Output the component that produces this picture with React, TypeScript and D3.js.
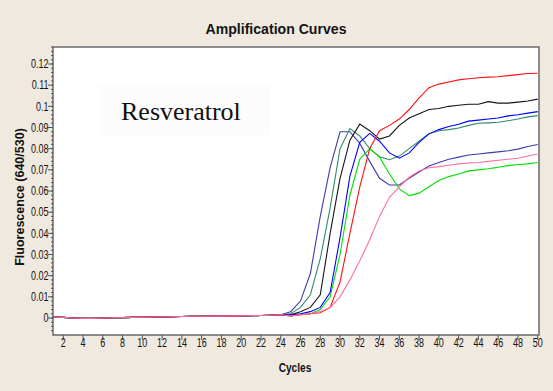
import React from "react";
import * as d3 from "d3";

// Cycle numbers 1..50
const cycles: number[] = d3.range(1, 51);

// Shared flat baseline for cycles 1..24
const baseline: number[] = [
  0.0005, 0.0003, 0.0, -0.0002, -0.0002, 0.0, 0.0001, 0.0002, 0.0003, 0.0004,
  0.0005, 0.0005, 0.0006, 0.0007, 0.0008, 0.0008, 0.0009, 0.0009, 0.001, 0.001,
  0.0011, 0.0012, 0.0013, 0.0015,
];

// Fluorescence for cycles 25..50, per sample
const slateTail: number[] = [
  0.003, 0.008, 0.021, 0.048, 0.071, 0.088, 0.088, 0.0825, 0.074, 0.066,
  0.0628, 0.0628, 0.066, 0.069, 0.0718, 0.0735, 0.075, 0.076, 0.077, 0.0775,
  0.078, 0.0785, 0.079, 0.0798, 0.081, 0.082,
];
const tealTail: number[] = [
  0.002, 0.005, 0.011, 0.028, 0.052, 0.08, 0.0895, 0.086, 0.08, 0.0762,
  0.0748, 0.0765, 0.08, 0.0835, 0.087, 0.0885, 0.089, 0.0898, 0.091, 0.092,
  0.0922, 0.0925, 0.0932, 0.094, 0.095, 0.0956,
];
const blackTail: number[] = [
  0.0015, 0.003, 0.005, 0.011, 0.04, 0.066, 0.084, 0.0916, 0.0885, 0.0845,
  0.086, 0.091, 0.0945, 0.0965, 0.0985, 0.099, 0.1, 0.1005, 0.101, 0.101,
  0.1022, 0.1015, 0.1015, 0.102, 0.1025, 0.1034,
];
const blueTail: number[] = [
  0.0015, 0.002, 0.003, 0.005, 0.012, 0.038, 0.067, 0.083, 0.0872, 0.0835,
  0.078, 0.0755, 0.078, 0.083, 0.087, 0.089, 0.0905, 0.0915, 0.093, 0.0935,
  0.094, 0.0945, 0.0955, 0.096, 0.0968, 0.0975,
];
const greenTail: number[] = [
  0.001, 0.0015, 0.002, 0.004, 0.01, 0.03, 0.058, 0.075, 0.08, 0.076,
  0.068, 0.061, 0.0578, 0.059, 0.062, 0.065, 0.0668, 0.068, 0.0695, 0.07,
  0.0705, 0.0712, 0.072, 0.0725, 0.0728, 0.0735,
];
const redTail: number[] = [
  0.001, 0.0015, 0.002, 0.0025, 0.005, 0.017, 0.04, 0.062, 0.08, 0.0885,
  0.091, 0.094, 0.0985, 0.104, 0.1088, 0.1105, 0.1115, 0.1125, 0.113, 0.1135,
  0.1138, 0.114, 0.1145, 0.115, 0.1155, 0.1156,
];
const pinkTail: number[] = [
  0.001, 0.0015, 0.002, 0.003, 0.005, 0.01, 0.018, 0.027, 0.037, 0.048,
  0.057, 0.062, 0.0665, 0.0695, 0.071, 0.0715, 0.0722, 0.0728, 0.0732, 0.0735,
  0.074, 0.0745, 0.075, 0.0755, 0.0765, 0.0775,
];

const seriesNames: string[] = ["slate", "teal", "black", "green", "blue", "red", "pink"];
const seriesTails: number[][] = [slateTail, tealTail, blackTail, greenTail, blueTail, redTail, pinkTail];
const seriesColors: string[] = ["#3c3cae", "#2e8b6e", "#151515", "#00e000", "#0000ff", "#ff1010", "#ff6f9a"];

const xTicks: number[] = d3.range(2, 51, 2);
const yTicks: number[] = d3.range(0, 0.1201, 0.01);
const yMinorTicks: number[] = d3.range(-0.006, 0.1281, 0.002);

const W = 553;
const H = 391;
const plot = { left: 53, right: 539, top: 47, bottom: 335 };

const sans = "'Liberation Sans', Arial, sans-serif";

// Text squeezed horizontally to mimic a narrow face
function NText(props: {
  x: number;
  y: number;
  size: number;
  squeeze: number;
  anchor?: "start" | "middle" | "end";
  bold?: boolean;
  children: React.ReactNode;
}) {
  const { x, y, size, squeeze, anchor = "start", bold = false, children } = props;
  return (
    <text
      transform={`translate(${x},${y}) scale(${squeeze},1)`}
      textAnchor={anchor}
      fontFamily={sans}
      fontSize={size}
      fontWeight={bold ? "bold" : "normal"}
      fill="#141414"
    >
      {children}
    </text>
  );
}

export default function App() {
  const x = d3.scaleLinear().domain([1, 50]).range([53.4, 537.7]);
  const y = d3.scaleLinear().domain([0, 0.12]).range([318, 64]);

  const line = d3
    .line<[number, number]>()
    .x((d) => x(d[0]))
    .y((d) => y(d[1]));

  const series = seriesTails.map((tail, i) => ({
    name: seriesNames[i],
    color: seriesColors[i],
    points: cycles.map(
      (c, j) => [c, j < baseline.length ? baseline[j] : tail[j - baseline.length]] as [number, number]
    ),
  }));

  return (
    <svg width={W} height={H} style={{ position: "fixed", left: 0, top: 0, display: "block" }}>
      <rect x={0} y={0} width={W} height={H} fill="#efe9e0" />
      <NText x={276} y={34} size={15} squeeze={0.94} anchor="middle" bold>
        Amplification Curves
      </NText>

      <rect
        x={plot.left}
        y={plot.top}
        width={plot.right - plot.left}
        height={plot.bottom - plot.top}
        fill="#ffffff"
      />
      <rect x={100} y={85} width={170} height={50} fill="#fcfcfc" />
      <text x={121} y={120} fontFamily="'Liberation Serif', 'Times New Roman', serif" fontSize={26} fill="#111">
        Resveratrol
      </text>

      <defs>
        <clipPath id="plotClip">
          <rect x={plot.left} y={plot.top} width={plot.right - plot.left} height={plot.bottom - plot.top} />
        </clipPath>
      </defs>
      <g clipPath="url(#plotClip)" fill="none" strokeWidth={1.1}>
        {series.map((s) => (
          <path key={s.name} d={line(s.points) || ""} stroke={s.color} />
        ))}
      </g>

      <rect
        x={plot.left}
        y={plot.top}
        width={plot.right - plot.left}
        height={plot.bottom - plot.top}
        fill="none"
        stroke="#6a6a6a"
        strokeWidth={1.5}
      />

      {/* y axis ticks */}
      <g stroke="#555" strokeWidth={1}>
        {yMinorTicks.map((v) => (
          <line key={"m" + v.toFixed(3)} x1={plot.left - 2} x2={plot.left} y1={y(v)} y2={y(v)} />
        ))}
        {yTicks.map((v) => (
          <line key={"t" + v.toFixed(2)} x1={plot.left - 5} x2={plot.left} y1={y(v)} y2={y(v)} />
        ))}
      </g>
      {yTicks.map((v) => (
        <NText key={"l" + v.toFixed(2)} x={48.5} y={y(v) + 4.3} size={12} squeeze={0.75} anchor="end">
          {d3.format("~g")(+v.toFixed(2))}
        </NText>
      ))}

      {/* x axis ticks */}
      <g stroke="#555" strokeWidth={1}>
        {xTicks.map((c) => (
          <line key={"xt" + c} x1={x(c)} x2={x(c)} y1={plot.bottom} y2={plot.bottom + 5} />
        ))}
      </g>
      {xTicks.map((c) => (
        <NText key={"xl" + c} x={x(c)} y={347} size={12} squeeze={0.75} anchor="middle">
          {c}
        </NText>
      ))}

      <NText x={295} y={372} size={13} squeeze={0.78} anchor="middle" bold>
        Cycles
      </NText>
      <text
        transform={`translate(24, 197) rotate(-90)`}
        textAnchor="middle"
        fontFamily={sans}
        fontWeight="bold"
        fontSize={12.5}
        fill="#111"
      >
        Fluorescence (640/530)
      </text>
    </svg>
  );
}
